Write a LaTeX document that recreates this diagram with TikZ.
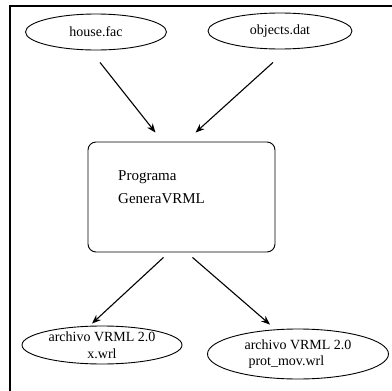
\documentclass[tikz,border=0pt]{standalone}
\usepackage{fontspec}
\setmainfont{Liberation Serif}
\usetikzlibrary{shapes.geometric,arrows.meta,calc}
\begin{document}
\begin{tikzpicture}[x=1pt,y=-1pt,
  every node/.style={font=\fontsize{14}{16.5}\selectfont},
  file/.style={draw,ellipse,line width=0.9pt,inner sep=0pt},
  progbox/.style={draw,rounded corners=8pt,line width=0.9pt,minimum width=187pt,minimum height=110pt},
  flow/.style={-{Stealth[length=9pt,width=7pt]},line width=1.1pt},
  frameline/.style={line width=1.2pt}]
\useasboundingbox (0,0) rectangle (392,391);
\coordinate (tl) at (10,6);
\coordinate (tr) at (392,6);
\coordinate (bl) at (10,391);
\draw[frameline] (tr) -- (tl) -- (bl);
\node[file,minimum width=141pt,minimum height=36pt] (house) at (96,32) {house.fac};
\node[file,minimum width=144pt,minimum height=36pt] (objects) at (280,31) {objects.dat};
\node[progbox] (prog) at (181.5,197) {};
\node[anchor=west,align=left,font=\fontsize{15}{23}\selectfont,inner sep=0pt] (progtext) at (118,187) {Programa\\GeneraVRML};
\node[file,minimum width=160pt,minimum height=38pt,align=center] (out1) at (102,345) {archivo VRML 2.0\\x.wrl};
\node[file,minimum width=181pt,minimum height=50pt,align=left] (out2) at (298,354) {archivo VRML 2.0\\\hspace{4pt}prot\_mov.wrl};
\draw[flow] ($(house.south)+(4,12)$) -- ($(prog.north)+(-26,-9)$);
\draw[flow] ($(objects.south)+(-7,13)$) -- ($(prog.north)+(14,-9)$);
\draw[flow] ($(prog.south)+(-18,5)$) -- ($(out1.north)+(-10,-2)$);
\draw[flow] ($(prog.south)+(11,5)$) -- ($(out2.north)+(-28,-4)$);
\end{tikzpicture}
\end{document}
